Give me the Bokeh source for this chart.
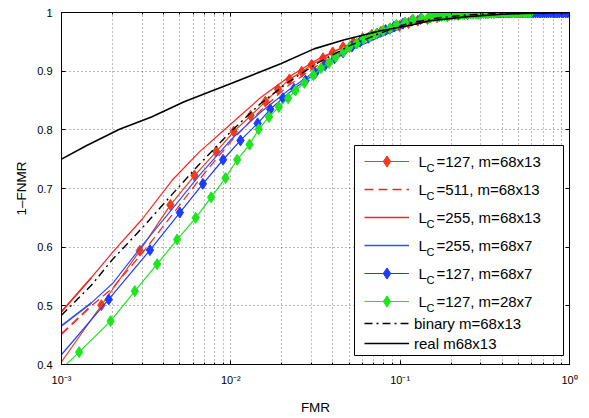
from bokeh.plotting import figure
from bokeh.models import (LogAxis, LinearAxis, FixedTicker, CustomJSTickFormatter, Legend,
                          LegendItem, BoxAnnotation, Label, Range1d)
from bokeh.embed import file_html
from bokeh.resources import INLINE
from bokeh.core.properties import value

FONT = "Liberation Sans"

# ---------------- data ----------------
# L_C=127, m=68x13 (red, diamonds)
red127_fmr = [0.0008, 0.00172, 0.0029, 0.0044, 0.0061, 0.0082, 0.0104, 0.0131, 0.016, 0.019,
              0.0222, 0.0262, 0.030, 0.035, 0.040, 0.046, 0.053, 0.060, 0.068, 0.077, 0.087,
              0.099, 0.112, 0.127, 0.145, 0.165, 0.19, 0.22, 0.25, 0.29, 0.33, 0.38, 0.44, 0.50]
red127_gar = [0.365, 0.501, 0.594, 0.672, 0.722, 0.763, 0.797, 0.824, 0.848, 0.869,
              0.886, 0.899, 0.911, 0.922, 0.932, 0.941, 0.949, 0.956, 0.962, 0.967, 0.972,
              0.977, 0.982, 0.986, 0.989, 0.992, 0.994, 0.996, 0.997, 0.998, 0.999, 1.0, 1.0, 1.0]

# L_C=127, m=68x7 (blue, diamonds)
blue127_fmr = [0.0008, 0.0019, 0.00333, 0.0050, 0.00684, 0.0090, 0.0114, 0.0144, 0.0171, 0.0203,
               0.0236, 0.0276, 0.0316, 0.036, 0.041, 0.046, 0.052, 0.058, 0.065, 0.073, 0.082,
               0.092, 0.104, 0.117, 0.132, 0.15, 0.17, 0.195, 0.22, 0.25, 0.28, 0.30, 0.32, 0.34,
               0.36, 0.37, 0.38, 0.39, 0.40, 0.41, 0.42, 0.435, 0.45, 0.46, 0.475, 0.49, 0.50,
               0.515, 0.53, 0.545, 0.56, 0.58, 0.595, 0.61, 0.63, 0.65, 0.67, 0.69, 0.71, 0.73,
               0.75, 0.775, 0.80, 0.82, 0.845, 0.87, 0.90, 0.92, 0.95, 0.975, 1.0]
blue127_gar = [0.384, 0.511, 0.595, 0.659, 0.708, 0.749, 0.782, 0.811, 0.835, 0.854,
               0.870, 0.884, 0.897, 0.910, 0.922, 0.932, 0.942, 0.950, 0.957, 0.964, 0.970,
               0.976, 0.981, 0.986, 0.989, 0.992, 0.994, 0.996, 0.997, 0.998, 0.999, 0.999, 0.999, 1.0,
               1.0, 1.0, 1.0, 1.0, 1.0, 1.0, 1.0, 1.0, 1.0, 1.0, 1.0, 1.0, 1.0,
               1.0, 1.0, 1.0, 1.0, 1.0, 1.0, 1.0, 1.0, 1.0, 1.0, 1.0, 1.0, 1.0,
               1.0, 1.0, 1.0, 1.0, 1.0, 1.0, 1.0, 1.0, 1.0, 1.0, 1.0]

# L_C=127, m=28x7 (green, diamonds)
green127_fmr = [0.0008, 0.00127, 0.00195, 0.00271, 0.00367, 0.00482, 0.0062, 0.00765, 0.0093, 0.0109,
                0.0129, 0.0146, 0.0168, 0.0192, 0.0218, 0.0241, 0.0272, 0.0307, 0.0341, 0.0380,
                0.0415, 0.0463, 0.0502, 0.0554, 0.0606, 0.0663, 0.0726, 0.0794, 0.087, 0.095,
                0.107, 0.119, 0.134, 0.147, 0.152, 0.158, 0.164, 0.17, 0.176, 0.182, 0.188, 0.195,
                0.202, 0.21, 0.217, 0.225, 0.233, 0.24, 0.25, 0.26, 0.27, 0.28, 0.29, 0.30, 0.31,
                0.32, 0.33, 0.345, 0.357, 0.37, 0.385, 0.40, 0.415, 0.43, 0.445, 0.46, 0.475,
                0.49, 0.505, 0.52, 0.54, 0.555, 0.575, 0.59]
green127_gar = [0.365, 0.421, 0.474, 0.525, 0.571, 0.613, 0.650, 0.685, 0.718, 0.749,
                0.775, 0.801, 0.822, 0.839, 0.854, 0.867, 0.880, 0.893, 0.905, 0.914,
                0.924, 0.933, 0.941, 0.947, 0.955, 0.959, 0.964, 0.969, 0.973, 0.979,
                0.983, 0.988, 0.990, 0.992, 0.992, 0.993, 0.993, 0.994, 0.994, 0.995, 0.995, 0.996,
                0.996, 0.996, 0.997, 0.997, 0.997, 0.997, 0.998, 0.998, 0.998, 0.998, 0.998, 0.999, 0.999,
                0.999, 0.999, 0.999, 0.999, 1.0, 1.0, 1.0, 1.0, 1.0, 1.0, 1.0, 1.0,
                1.0, 1.0, 1.0, 1.0, 1.0, 1.0, 1.0]

# curves without markers
fmr_grid = [0.001, 0.0015, 0.002, 0.003, 0.0045, 0.0065, 0.01, 0.015, 0.022, 0.033,
            0.05, 0.075, 0.11, 0.17, 0.25, 0.4, 0.6, 1.0]
red511_gar = [0.452, 0.500, 0.530, 0.590, 0.655, 0.715, 0.780, 0.833, 0.876, 0.911,
              0.940, 0.962, 0.980, 0.991, 0.996, 0.999, 1.0, 1.0]
red255_gar = [0.490, 0.548, 0.591, 0.648, 0.714, 0.762, 0.810, 0.855, 0.890, 0.921,
              0.946, 0.966, 0.982, 0.992, 0.996, 0.999, 1.0, 1.0]
blue255_gar = [0.466, 0.505, 0.538, 0.603, 0.665, 0.722, 0.783, 0.830, 0.868, 0.904,
               0.935, 0.958, 0.977, 0.989, 0.995, 0.999, 1.0, 1.0]
binary_gar = [0.484, 0.535, 0.579, 0.633, 0.690, 0.741, 0.797, 0.845, 0.882, 0.915,
              0.943, 0.964, 0.981, 0.991, 0.996, 0.999, 1.0, 1.0]

real_fmr = [0.001, 0.0014, 0.0022, 0.0034, 0.0053, 0.0102, 0.0197, 0.031, 0.0463, 0.0767,
            0.119, 0.15, 0.25, 0.4, 0.6, 1.0]
real_gar = [0.750, 0.773, 0.801, 0.822, 0.848, 0.880, 0.9125, 0.938, 0.953, 0.969,
            0.979, 0.986, 0.993, 0.997, 0.999, 1.0]

x_major_ticks = [1e-3, 1e-2, 1e-1, 1.0]
y_major_ticks = [0.4, 0.5, 0.6, 0.7, 0.8, 0.9, 1.0]

legend_lc = ["127", "511", "255", "255", "127", "127"]
legend_m = ["68x13", "68x13", "68x13", "68x7", "68x7", "28x7"]
legend_plain = ["binary m=68x13", "real m68x13"]

# ---------------- styling ----------------
RED_D = "#f03c1c"
RED = "#ff2020"
BLUE_T = "#2f50ff"
BLUE_D = "#1e3cff"
GREEN = "#1ee61e"
LW = 1.2

p = figure(width=585, height=417, x_axis_type="log",
           x_range=Range1d(1e-3, 1.0), y_range=Range1d(0.4, 1.0),
           output_backend="svg", toolbar_location=None,
           min_border_left=61, min_border_right=16, min_border_top=12, min_border_bottom=49)
p.background_fill_color = "white"
p.border_fill_color = "white"
p.outline_line_color = "black"
p.outline_line_width = 1

x_minor = [m * 10.0 ** e for e in (-3, -2, -1) for m in range(2, 10)]
xt = FixedTicker(ticks=x_major_ticks, minor_ticks=x_minor)
yt = FixedTicker(ticks=y_major_ticks, minor_ticks=[])

sup_js = """
const sup = {"-": "\u207b", "0": "\u2070", "1": "\u00b9", "2": "\u00b2", "3": "\u00b3",
             "4": "\u2074", "5": "\u2075", "6": "\u2076", "7": "\u2077", "8": "\u2078", "9": "\u2079"};
const e = Math.round(Math.log10(tick));
return "10" + String(e).split("").map(c => sup[c]).join("");
"""
xf = CustomJSTickFormatter(code=sup_js)
yf = CustomJSTickFormatter(code="return tick > 0.999 ? '1' : tick.toFixed(1);")
blank = CustomJSTickFormatter(code="return '';")

xa = p.below[0]
ya = p.left[0]
xa.ticker = xt
xa.formatter = xf
ya.ticker = yt
ya.formatter = yf
for ax in (xa, ya):
    ax.axis_line_color = "black"
    ax.major_tick_line_color = "black"
    ax.minor_tick_line_color = "black"
    ax.major_tick_in = 4
    ax.major_tick_out = 0
    ax.minor_tick_in = 2
    ax.minor_tick_out = 0
    ax.major_label_text_font = FONT
    ax.major_label_text_font_size = "11px"
    ax.major_label_text_color = "black"
    ax.axis_label_text_font = FONT
    ax.axis_label_text_font_size = "13.5px"
    ax.axis_label_text_font_style = "normal"
    ax.axis_label_text_color = "black"
xa.axis_label = "FMR"
xa.major_label_standoff = 9
xa.axis_label_standoff = 11
ya.axis_label = "1\u2013FNMR"
ya.major_label_standoff = 9
ya.axis_label_standoff = 5

top_ax = LogAxis(ticker=xt, formatter=blank, major_tick_in=4, major_tick_out=0,
                 minor_tick_in=2, minor_tick_out=0, major_label_standoff=0,
                 axis_line_color="black")
right_ax = LinearAxis(ticker=yt, formatter=blank, major_tick_in=4, major_tick_out=0,
                      minor_tick_in=0, minor_tick_out=0, major_label_standoff=0,
                      axis_line_color="black")
p.add_layout(top_ax, "above")
p.add_layout(right_ax, "right")

for g in (p.xgrid[0], p.ygrid[0]):
    g.grid_line_color = "black"
    g.grid_line_alpha = 0.55
    g.grid_line_dash = "1 3"
    g.grid_line_width = 1
p.xgrid[0].ticker = xt
p.ygrid[0].ticker = yt
p.xgrid[0].minor_grid_line_color = "black"
p.xgrid[0].minor_grid_line_alpha = 0.55
p.xgrid[0].minor_grid_line_dash = "1 3"

MS = 11

r127_l = p.line(red127_fmr, red127_gar, line_color=RED_D, line_width=LW)
r127_m = p.scatter(red127_fmr, red127_gar, marker="diamond", size=MS, fill_color=RED_D, line_color=RED_D)
r511_l = p.line(fmr_grid, red511_gar, line_color=RED, line_width=LW, line_dash="9 5")
r255_l = p.line(fmr_grid, red255_gar, line_color=RED, line_width=LW)
b255_l = p.line(fmr_grid, blue255_gar, line_color=BLUE_T, line_width=LW)
b127_l = p.line(blue127_fmr, blue127_gar, line_color=BLUE_D, line_width=LW)
b127_m = p.scatter(blue127_fmr, blue127_gar, marker="diamond", size=MS, fill_color=BLUE_D, line_color=BLUE_D)
g127_l = p.line(green127_fmr, green127_gar, line_color=GREEN, line_width=LW)
g127_m = p.scatter(green127_fmr, green127_gar, marker="diamond", size=MS, fill_color=GREEN, line_color=GREEN)
bin_l = p.line(fmr_grid, binary_gar, line_color="black", line_width=1.4, line_dash="8 4 2 4")
real_l = p.line(real_fmr, real_gar, line_color="black", line_width=1.6)

# legend sample renderers: the first segment of each curve, drawn again with a
# slightly heavier stroke so the legend key shows up clearly
r511_key = p.line(fmr_grid[:2], red511_gar[:2], line_color=RED, line_width=1.6, line_dash="9 5")
r255_key = p.line(fmr_grid[:2], red255_gar[:2], line_color=RED, line_width=1.6)
b255_key = p.line(fmr_grid[:2], blue255_gar[:2], line_color=BLUE_T, line_width=1.6)

# legend box (screen units relative to the frame)
box = BoxAnnotation(left=293, right=502, bottom=9, top=219,
                    left_units="screen", right_units="screen",
                    top_units="screen", bottom_units="screen",
                    fill_color="white", fill_alpha=1.0, line_color="black",
                    line_alpha=1.0, line_width=1)
p.add_layout(box)

groups = [[r127_l, r127_m], [r511_key], [r255_key], [b255_key], [b127_l, b127_m], [g127_l, g127_m]]
legA = Legend(items=[LegendItem(label=value(" "), renderers=g) for g in groups],
              location=(303, 49.5), orientation="vertical", glyph_width=45, glyph_height=28,
              label_height=28, label_width=10, spacing=0, padding=0, margin=0,
              border_line_color=None, background_fill_alpha=0, label_standoff=9,
              label_text_font=FONT, label_text_font_size="15px")
p.add_layout(legA)

legB = Legend(items=[LegendItem(label=value(legend_plain[0]), renderers=[bin_l]),
                     LegendItem(label=value(legend_plain[1]), renderers=[real_l])],
              location=(303, 11), orientation="vertical", glyph_width=45, glyph_height=20,
              label_height=20, spacing=0, padding=0, margin=0,
              border_line_color=None, background_fill_alpha=0, label_standoff=5,
              label_text_font=FONT, label_text_font_size="15px", label_text_color="black")
p.add_layout(legB)

for i, (lc, m) in enumerate(zip(legend_lc, legend_m)):
    yy = 203 - 28 * i
    p.add_layout(Label(x=357, y=yy, x_units="screen", y_units="screen", text="L",
                       text_font=FONT, text_font_size="15px", text_baseline="alphabetic",
                       text_color="black"))
    p.add_layout(Label(x=365, y=yy - 6.5, x_units="screen", y_units="screen", text="C",
                       text_font=FONT, text_font_size="11px", text_baseline="alphabetic",
                       text_color="black"))
    p.add_layout(Label(x=375, y=yy, x_units="screen", y_units="screen",
                       text="=" + lc + ", m=" + m,
                       text_font=FONT, text_font_size="15px", text_baseline="alphabetic",
                       text_color="black"))

open("out.html", "w").write(file_html(p, INLINE))
